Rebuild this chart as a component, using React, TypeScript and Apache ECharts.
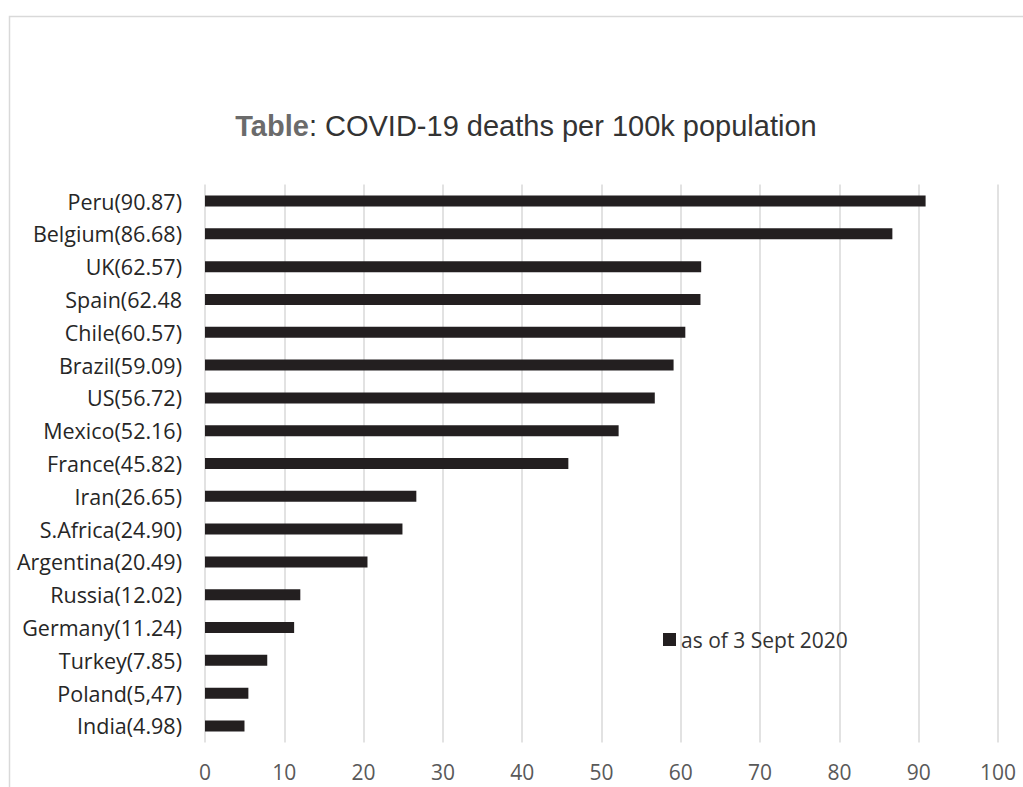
import React, { useEffect, useRef } from "react";
import * as echarts from "echarts";

const countries = [
  "Peru(90.87)", "Belgium(86.68)", "UK(62.57)", "Spain(62.48", "Chile(60.57)",
  "Brazil(59.09)", "US(56.72)", "Mexico(52.16)", "France(45.82)", "Iran(26.65)",
  "S.Africa(24.90)", "Argentina(20.49)", "Russia(12.02)", "Germany(11.24)",
  "Turkey(7.85)", "Poland(5,47)", "India(4.98)",
];
const deaths = [90.87, 86.68, 62.57, 62.48, 60.57, 59.09, 56.72, 52.16, 45.82, 26.65, 24.9, 20.49, 12.02, 11.24, 7.85, 5.47, 4.98];
const seriesName = "as of 3 Sept 2020";
const xMin = 0;
const xMax = 100;
const xStep = 10;

export default function App() {
  const ref = useRef<HTMLDivElement>(null);
  useEffect(() => {
    if (!ref.current) return;
    const chart = echarts.init(ref.current, null, { renderer: "svg" });
    chart.setOption({
      animation: false,
      backgroundColor: "#ffffff",
      graphic: [
        {
          type: "rect",
          shape: { x: 9.5, y: 16.5, width: 1100, height: 900 },
          style: { fill: "none", stroke: "#d9d9d9", lineWidth: 1.5 },
          silent: true,
        },
      ],
      title: {
        text: "{b|Table}{r|: COVID-19 deaths per 100k population}",
        left: 521,
        textAlign: "center",
        top: 106,
        textStyle: {
          fontWeight: "normal",
          rich: {
            b: { fontFamily: "Liberation Sans", fontSize: 29, fontWeight: "bold", color: "#6b6b6b" },
            r: { fontFamily: "Liberation Sans", fontSize: 29, fontWeight: "normal", color: "#333333" },
          },
        },
      },
      legend: {
        left: 658,
        top: 624,
        itemWidth: 13,
        itemHeight: 13,
        itemGap: 5,
        icon: "rect",
        data: [seriesName],
        textStyle: { fontFamily: "Open Sans", fontSize: 21, color: "#333333" },
      },
      grid: { left: 205, right: 25, top: 184.6, bottom: 44.6, containLabel: false },
      xAxis: {
        type: "value",
        min: xMin,
        max: xMax,
        interval: xStep,
        axisLine: { show: false },
        axisTick: { show: false },
        splitLine: { show: true, lineStyle: { color: "#d9d9d9", width: 1.5 } },
        axisLabel: { fontFamily: "Open Sans", fontSize: 21, color: "#595959", margin: 19 },
      },
      yAxis: {
        type: "category",
        data: countries,
        inverse: true,
        axisLine: { show: false },
        axisTick: { show: false },
        axisLabel: { fontFamily: "Open Sans", fontSize: 21.5, color: "#262626", margin: 23 },
      },
      series: [
        {
          name: seriesName,
          type: "bar",
          data: deaths,
          barWidth: 11,
          itemStyle: { color: "#231f20" },
        },
      ],
    });
    return () => chart.dispose();
  }, []);
  return (
    <div
      ref={ref}
      style={{ position: "fixed", left: 0, top: 0, width: 1023, height: 787 }}
    />
  );
}
